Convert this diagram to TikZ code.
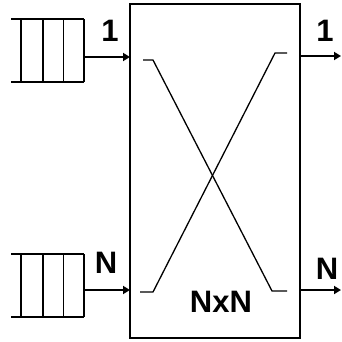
\documentclass[tikz,border=0pt]{standalone}
\usepackage{fontspec}
\setmainfont{Liberation Sans}
\usetikzlibrary{arrows.meta,calc}

\begin{document}
\begin{tikzpicture}[x=1pt,y=-1pt,line width=1.8pt,
    every node/.style={font=\fontsize{31}{31}\selectfont\bfseries},
    arr/.style={-{Triangle[length=7pt,width=8pt]}},
    queue/.style={minimum width=71pt,minimum height=61pt,inner sep=0pt}]
  \useasboundingbox (0,0) rectangle (341,342);
  % switch fabric
  \node[draw,minimum width=170pt,minimum height=334pt,inner sep=0pt] (sw) at (215,171) {};
  \node (nxn) at (221,302) {NxN};
  % ports
  \coordinate (in1) at (130,57);
  \coordinate (inN) at (130,290);
  \coordinate (out1) at (300,56);
  \coordinate (outN) at (300,290);
  \coordinate (o1) at (341,56);
  \coordinate (oN) at (341,290);
  % input queues
  \node[queue] (qa) at (47.5,50.5) {};
  \node[queue] (qb) at (47.5,285.5) {};
  \foreach \q in {qa,qb} {
    \draw (\q.north west) -- (\q.north east);
    \draw (\q.south west) -- (\q.south east);
    \foreach \f in {0.14,0.44,0.72,1}
      \draw ($(\q.north west)!\f!(\q.north east)$) -- ($(\q.south west)!\f!(\q.south east)$);
  }
  \draw[arr] (qa.east |- in1) -- (in1);
  \draw[arr] (qb.east |- inN) -- (inN);
  \draw[arr] (out1) -- (o1);
  \draw[arr] (outN) -- (oN);
  % port labels
  \node (l1) at (110,31) {1};
  \node (lN) at (106,263) {N};
  \node (r1) at (325,31) {1};
  \node (rN) at (327,269) {N};
  % crossing paths
  \draw[line width=1.3pt] (143,60) -- (153,60) -- (272,291) -- (287,291);
  \draw[line width=1.3pt] (140,292) -- (153,292) -- (275,53) -- (287,53);
\end{tikzpicture}
\end{document}
